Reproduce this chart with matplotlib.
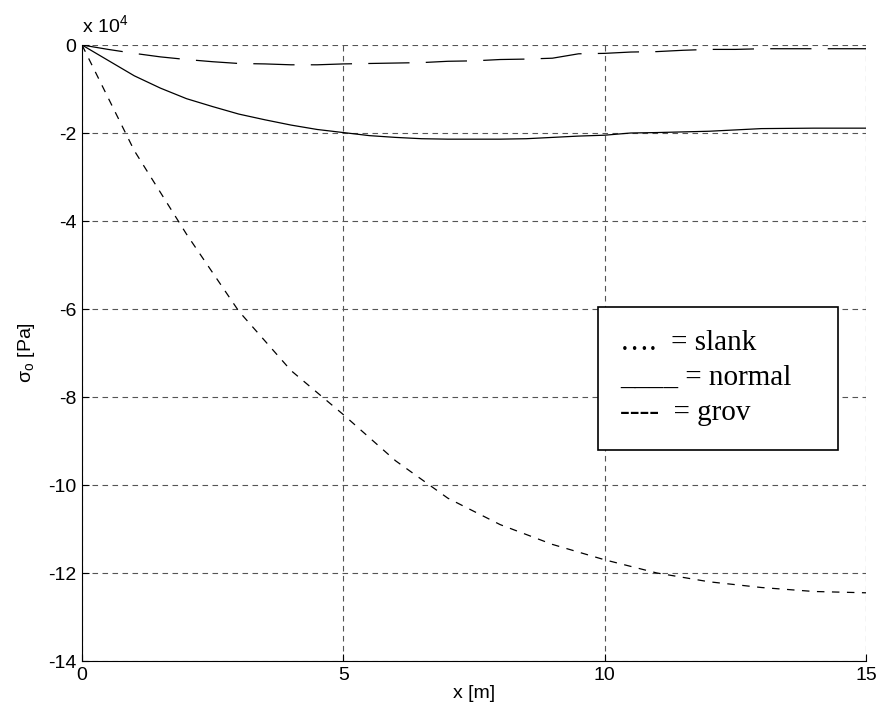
import numpy as np
import matplotlib.pyplot as plt
from matplotlib.patches import Rectangle

# stress along x, in units of 1e4 Pa
x_slank = [0, 1, 2, 3, 4, 5, 6, 7, 8, 9, 10, 11, 12, 13, 14, 15]
y_slank = [0, -2.4, -4.3, -6.05, -7.4, -8.4, -9.45, -10.3, -10.9, -11.35,
           -11.7, -12.0, -12.2, -12.33, -12.42, -12.45]

x_normal = [0, 0.5, 1, 1.5, 2, 2.5, 3, 3.5, 4, 4.5, 5, 5.5, 6, 6.5, 7, 8,
            8.5, 9, 9.5, 10, 10.5, 11, 12, 13, 14, 15]
y_normal = [0, -0.35, -0.7, -0.98, -1.22, -1.4, -1.57, -1.7, -1.82, -1.92,
            -1.99, -2.06, -2.1, -2.13, -2.14, -2.14, -2.13, -2.1, -2.07,
            -2.05, -2.0, -1.99, -1.96, -1.9, -1.89, -1.89]

x_grov = [0, 0.5, 1, 1.5, 2, 2.5, 3, 3.5, 4, 4.5, 5, 5.5, 6, 6.5, 7, 7.5,
          8, 8.5, 9, 9.5, 10, 10.5, 11, 11.5, 12, 12.5, 13, 14, 15]
y_grov = [0, -0.1, -0.19, -0.27, -0.33, -0.38, -0.42, -0.43, -0.45, -0.45,
          -0.43, -0.42, -0.41, -0.4, -0.37, -0.36, -0.33, -0.32, -0.3, -0.2,
          -0.19, -0.16, -0.15, -0.12, -0.1, -0.1, -0.085, -0.085, -0.085]

xticks = [0, 5, 10, 15]
yticks = [0, -2, -4, -6, -8, -10, -12, -14]
legend_lines = ['\u2026.  = slank', '____ = normal', '----  = grov']

plt.rcParams['font.family'] = ['Liberation Sans', 'DejaVu Sans']

W, H = 877, 727
fig = plt.figure(figsize=(W / 100, H / 100), dpi=100)
ax = fig.add_axes([82 / W, 1 - 661 / H, (866 - 82) / W, (661 - 45) / H])

ax.plot(x_slank, y_slank, color='black', lw=0.9, dashes=(6, 6))
ax.plot(x_normal, y_normal, color='black', lw=0.9)
ax.plot(x_grov, y_grov, color='black', lw=0.9, dashes=(33, 13))

ax.set_xlim(0, 15)
ax.set_ylim(-14, 0)
ax.set_xticks(xticks)
ax.set_yticks(yticks)
ax.set_xticklabels([str(v) for v in xticks])
ax.set_yticklabels([str(v) for v in yticks])
ax.grid(True, color='#555555', lw=0.8, dashes=(5, 4))
ax.set_axisbelow(True)
for s in ['top', 'right']:
    ax.spines[s].set_visible(False)
ax.tick_params(direction='in', length=5, labelsize=14, pad=4)

ax.set_xlabel('x [m]', fontsize=14, labelpad=1)
ax.set_ylabel(r'$\mathregular{\sigma_o}$ [Pa]', fontsize=14, labelpad=8)
fig.text(82 / W, 1 - 33 / H, r'x 10$^\mathregular{4}$', fontsize=14,
         ha='left', va='baseline')

# text box with the line-style key
fig.patches.append(Rectangle((598 / W, 1 - 450 / H), 240 / W, 143 / H,
                             transform=fig.transFigure, fill=True,
                             facecolor='white', edgecolor='black', lw=1.2))
for i, s in enumerate(legend_lines):
    fig.text(620 / W, 1 - (350 + 35 * i) / H, s, fontsize=21,
             family='Liberation Serif', ha='left', va='baseline')

fig.savefig('out.png', dpi=100)
